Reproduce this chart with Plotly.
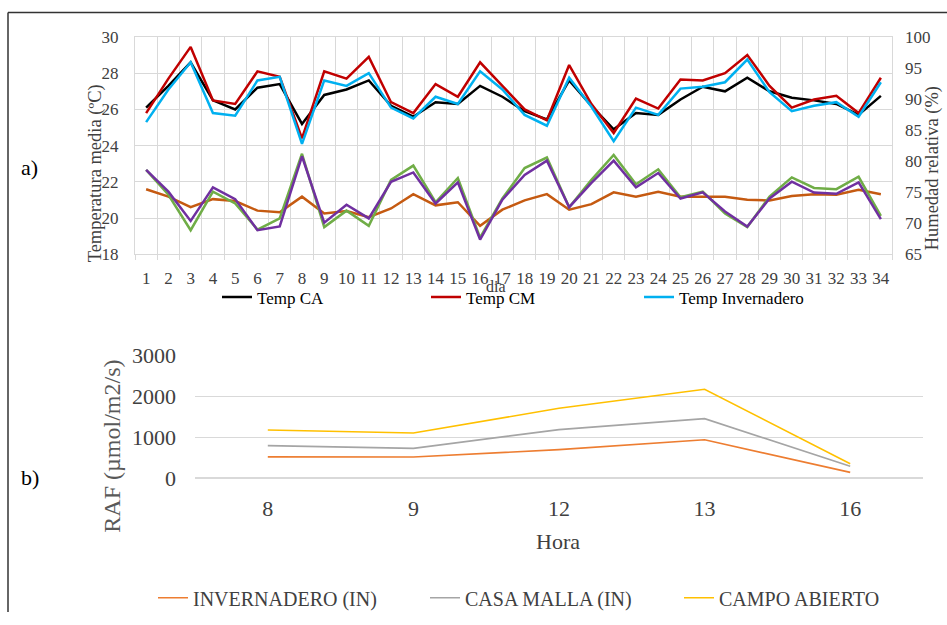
import plotly.graph_objects as go

# ---------------- data (top chart) ----------------
dias = list(range(1, 35))
dia_labels = [str(d) for d in dias]

temp_ca = [26.1, 27.3, 28.6, 26.5, 26.0, 27.2, 27.4, 25.2, 26.8, 27.1, 27.6, 26.2, 25.6, 26.4, 26.3,
           27.3, 26.7, 25.9, 25.45, 27.6, 26.2, 24.9, 25.8, 25.7, 26.55, 27.25, 27.0, 27.75, 27.0,
           26.65, 26.5, 26.3, 25.7, 26.75]
temp_cm = [25.8, 27.7, 29.45, 26.5, 26.3, 28.1, 27.8, 24.4, 28.1, 27.7, 28.9, 26.4, 25.8, 27.4, 26.7,
           28.6, 27.3, 26.0, 25.4, 28.45, 26.3, 24.7, 26.6, 26.05, 27.65, 27.6, 28.0, 29.0, 27.3,
           26.1, 26.55, 26.75, 25.8, 27.75]
temp_inv = [25.3, 27.1, 28.6, 25.8, 25.65, 27.6, 27.8, 24.1, 27.6, 27.3, 28.0, 26.1, 25.5, 26.7, 26.3,
            28.1, 27.1, 25.7, 25.1, 27.75, 26.15, 24.25, 26.1, 25.7, 27.15, 27.25, 27.5, 28.75, 26.95,
            25.9, 26.2, 26.4, 25.6, 27.5]

hr_ca = [78.6, 74.6, 68.9, 75.1, 73.2, 69.0, 70.8, 81.2, 69.4, 72.05, 69.6, 77.0, 79.3, 73.4, 77.3,
         67.7, 74.0, 78.9, 80.6, 72.6, 77.0, 81.0, 76.3, 78.7, 74.2, 75.1, 71.6, 69.4, 74.3,
         77.4, 75.7, 75.5, 77.5, 71.2]
hr_cm = [78.6, 75.1, 70.4, 75.8, 73.9, 68.9, 69.5, 80.8, 70.1, 73.0, 70.8, 76.7, 78.2, 73.2, 76.6,
         67.4, 73.8, 77.8, 80.1, 72.6, 76.5, 80.1, 75.8, 78.1, 74.0, 75.0, 71.9, 69.5, 74.0,
         76.7, 74.95, 74.75, 76.6, 70.7]
hr_inv = [75.5, 74.3, 72.6, 73.9, 73.6, 72.05, 71.8, 74.3, 71.6, 72.0, 71.0, 72.4, 74.7, 72.9, 73.4,
          69.6, 72.2, 73.7, 74.7, 72.2, 73.1, 75.0, 74.3, 75.1, 74.3, 74.3, 74.3, 73.8, 73.7,
          74.4, 74.7, 74.6, 75.4, 74.7]

# ---------------- data (bottom chart) ----------------
horas = ["8", "9", "12", "13", "16"]
raf_invernadero = [525, 520, 700, 940, 146]
raf_casa_malla = [798, 732, 1188, 1456, 293]
raf_campo_abierto = [1180, 1107, 1707, 2171, 358]

FONT = "Liberation Serif, Times New Roman, DejaVu Serif, serif"
W, H = 947, 625
GRID = "#D9D9D9"
TXT = "#404040"


def px(x):
    return x / W


def py(y):
    # screen y (px from top) -> paper fraction, compensating the capture's vertical fit
    yf = (y - 12.8) / 0.959
    return 1 - yf / H


fig = go.Figure()

# humidity (right axis)
fig.add_trace(go.Scatter(x=dias, y=hr_inv, name="HR Invernadero", mode="lines",
                         line=dict(color="#C55A11", width=2.5), xaxis="x", yaxis="y2", showlegend=False))
fig.add_trace(go.Scatter(x=dias, y=hr_ca, name="HR CA", mode="lines",
                         line=dict(color="#70AD47", width=2.5), xaxis="x", yaxis="y2", showlegend=False))
fig.add_trace(go.Scatter(x=dias, y=hr_cm, name="HR CM", mode="lines",
                         line=dict(color="#7030A0", width=2.5), xaxis="x", yaxis="y2", showlegend=False))

# temperatures (left axis)
fig.add_trace(go.Scatter(x=dias, y=temp_ca, name="Temp CA", mode="lines",
                         line=dict(color="#000000", width=2.5), xaxis="x", yaxis="y", legend="legend"))
fig.add_trace(go.Scatter(x=dias, y=temp_cm, name="Temp CM", mode="lines",
                         line=dict(color="#C00000", width=2.5), xaxis="x", yaxis="y", legend="legend2"))
fig.add_trace(go.Scatter(x=dias, y=temp_inv, name="Temp Invernadero", mode="lines",
                         line=dict(color="#00B0F0", width=2.5), xaxis="x", yaxis="y", legend="legend3"))

# RAF
fig.add_trace(go.Scatter(x=horas, y=raf_invernadero, name="INVERNADERO (IN)", mode="lines",
                         line=dict(color="#ED7D31", width=1.6), xaxis="x2", yaxis="y3", legend="legend4"))
fig.add_trace(go.Scatter(x=horas, y=raf_casa_malla, name="CASA MALLA (IN)", mode="lines",
                         line=dict(color="#A5A5A5", width=1.6), xaxis="x2", yaxis="y3", legend="legend5"))
fig.add_trace(go.Scatter(x=horas, y=raf_campo_abierto, name="CAMPO ABIERTO", mode="lines",
                         line=dict(color="#FFC000", width=1.6), xaxis="x2", yaxis="y3", legend="legend6"))

top_leg_font = dict(family=FONT, size=17, color="#000000")
bot_leg_font = dict(family=FONT, size=20, color=TXT)


def leg(xpix, ypix, font):
    return dict(x=px(xpix), y=py(ypix), xanchor="left", yanchor="middle",
                bgcolor="rgba(0,0,0,0)", borderwidth=0, font=font, orientation="h")


fig.update_layout(
    width=W, height=H, autosize=False,
    margin=dict(l=0, r=0, t=0, b=0),
    paper_bgcolor="white", plot_bgcolor="white",
    font=dict(family=FONT, color=TXT),
    xaxis=dict(domain=[px(135), px(892)], range=[0.5, 34.5], anchor="y",
               tickmode="array", tickvals=dias, ticktext=dia_labels,
               showgrid=False, zeroline=False, ticks="", ticklabelstandoff=8,
               tickfont=dict(family=FONT, size=17, color=TXT),
               showline=True, linecolor=GRID, linewidth=1, mirror=True,
               minor=dict(tick0=0.5, dtick=1, showgrid=True, gridcolor=GRID, gridwidth=1,
                          ticks="outside", ticklen=5, tickcolor=GRID)),
    yaxis=dict(domain=[py(255), py(37.7)], range=[18, 30], dtick=2, anchor="x",
               showgrid=True, gridcolor=GRID, zeroline=False, ticks="",
               ticklabelstandoff=12, tickfont=dict(family=FONT, size=17, color=TXT),
               showline=True, linecolor=GRID, mirror=True),
    yaxis2=dict(range=[65, 100], dtick=5, overlaying="y", side="right", anchor="x",
                showgrid=False, zeroline=False, ticks="", ticklabelstandoff=12,
                tickfont=dict(family=FONT, size=17, color=TXT)),
    xaxis2=dict(domain=[px(195), px(923)], anchor="y3", type="category",
                categoryorder="array", categoryarray=horas, range=[-0.5, 4.5],
                showgrid=False, zeroline=False, showline=False, ticks="",
                ticklabelstandoff=15, tickfont=dict(family=FONT, size=22, color=TXT)),
    yaxis3=dict(domain=[py(478.7), py(355.7)], range=[0, 3000], dtick=1000, anchor="x2",
                showgrid=True, gridcolor=GRID, zeroline=True, zerolinecolor=GRID,
                showline=False, ticks="", ticklabelstandoff=18,
                tickfont=dict(family=FONT, size=22, color=TXT)),
    legend=leg(217, 298, top_leg_font),
    legend2=leg(426, 298, top_leg_font),
    legend3=leg(639, 298, top_leg_font),
    legend4=leg(153, 598, bot_leg_font),
    legend5=leg(425, 598, bot_leg_font),
    legend6=leg(679, 598, bot_leg_font),
    showlegend=True,
)

annotations = [
    dict(text="a)", x=px(30), y=py(168), font=dict(family=FONT, size=22, color="#000000")),
    dict(text="b)", x=px(30), y=py(478), font=dict(family=FONT, size=22, color="#000000")),
    dict(text="Temperatura media (ºC)", x=px(95), y=py(174), textangle=-90,
         font=dict(family=FONT, size=18.5, color=TXT)),
    dict(text="Humedad relativa (%)", x=px(932), y=py(169), textangle=-90,
         font=dict(family=FONT, size=18.5, color=TXT)),
    dict(text="dia", x=px(496), y=py(287), font=dict(family=FONT, size=16, color=TXT)),
    dict(text="RAF (µmol/m2/s)", x=px(112), y=py(447), textangle=-90,
         font=dict(family=FONT, size=24, color="#595959")),
    dict(text="Hora", x=px(558), y=py(542), font=dict(family=FONT, size=22, color=TXT)),
]
for a in annotations:
    a.update(xref="paper", yref="paper", showarrow=False, xanchor="center", yanchor="middle")
fig.update_layout(annotations=annotations)

top_frame = min(py(9), 0.999)
fig.add_shape(type="line", xref="paper", yref="paper", x0=px(8), x1=1, y0=top_frame, y1=top_frame,
              line=dict(color="#333333", width=1.5))
fig.add_shape(type="line", xref="paper", yref="paper", x0=px(8), x1=px(8), y0=top_frame, y1=0,
              line=dict(color="#333333", width=1.5))

post = ("document.documentElement.style.margin='0';document.body.style.margin='0';"
        "document.body.style.padding='0';document.documentElement.style.overflow='hidden';"
        "document.body.style.overflow='hidden';"
        "var d=document.getElementById('{plot_id}');d.style.position='absolute';"
        "d.style.left='0px';d.style.top='0px';")
fig.write_html("out.html", post_script=post, config={"displayModeBar": False})
